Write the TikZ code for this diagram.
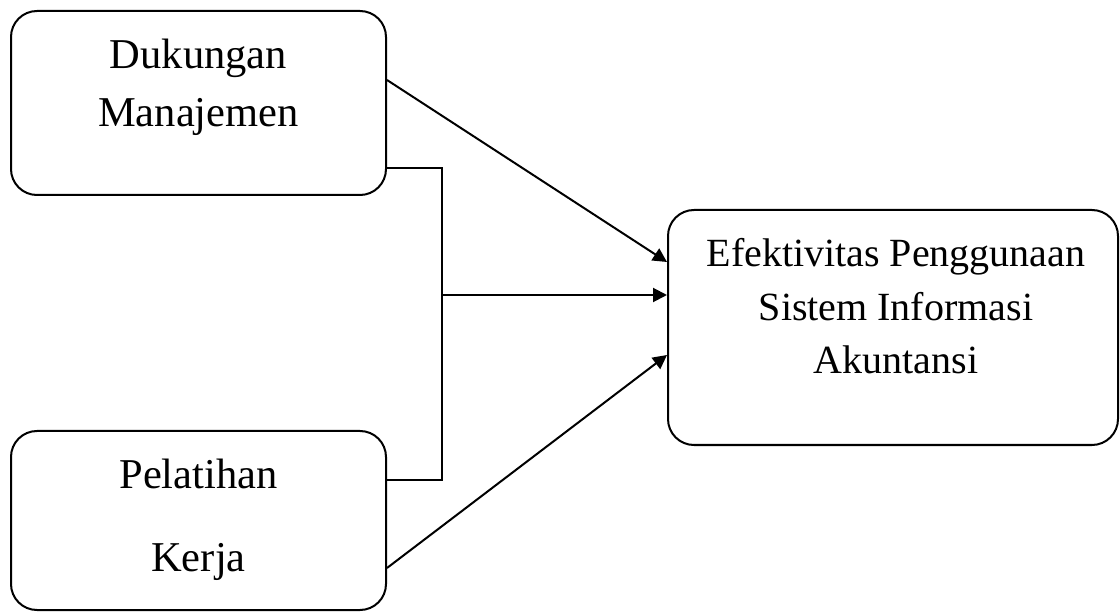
\documentclass[tikz,border=0pt]{standalone}
\usepackage{fontspec}
\setmainfont{Liberation Serif}
\usetikzlibrary{arrows.meta}
\begin{document}
\begin{tikzpicture}[x=1pt,y=1pt,
  box/.style={draw, line width=2pt, rounded corners=26pt, inner sep=0pt},
  lbl/.style={align=center, inner sep=0pt},
  conn/.style={line width=2pt},
  arr/.style={conn, -{Triangle[length=14pt,width=14pt]}}]
\useasboundingbox (0,0) rectangle (1120,-612);
\node[box, minimum width=375pt, minimum height=184pt] (A) at (198.5,-103) {};
\node[box, minimum width=375pt, minimum height=179pt] (B) at (198.5,-520.5) {};
\node[box, minimum width=450pt, minimum height=235pt] (C) at (893,-327.5) {};
\node[lbl, font=\fontsize{42.5}{58}\selectfont] (At) at (198.5,-87) {Dukungan\\Manajemen};
\node[lbl, font=\fontsize{42.5}{83}\selectfont] (Bt) at (198.5,-520) {Pelatihan\\Kerja};
\node[lbl, font=\fontsize{40}{53.5}\selectfont] (Ct) at (896,-306.5) {Efektivitas Penggunaan\\Sistem Informasi\\Akuntansi};
\coordinate (j) at (442,-295);
\draw[arr] ([yshift=23pt]A.east) -- ([yshift=65.5pt]C.west);
\draw[conn] ([yshift=-65pt]A.east) -| (j) |- ([yshift=40.5pt]B.east);
\draw[arr] (j) -- ([yshift=32.5pt]C.west);
\draw[arr] ([yshift=-47.5pt]B.east) -- ([yshift=-27.5pt]C.west);
\end{tikzpicture}
\end{document}
